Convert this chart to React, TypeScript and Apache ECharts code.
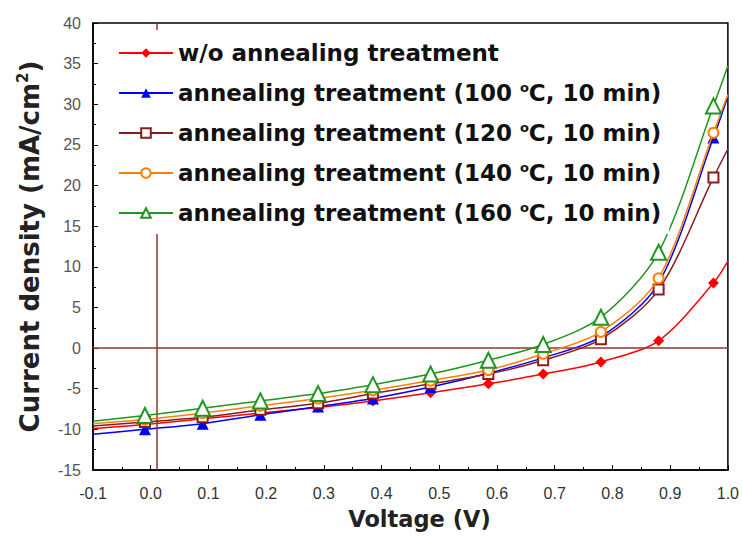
import React, { useEffect, useRef } from "react";
import * as echarts from "echarts";

// Voltage positions of the measured (marked) points, plus the curve ends
const voltages = [-0.1, -0.01, 0.09, 0.19, 0.29, 0.385, 0.485, 0.585, 0.68, 0.78, 0.88, 0.975, 1.0];

const seriesNames = [
  "w/o annealing treatment",
  "annealing treatment (100 °C, 10 min)",
  "annealing treatment (120 °C, 10 min)",
  "annealing treatment (140 °C, 10 min)",
  "annealing treatment (160 °C, 10 min)",
];

const woAnnealing = [-9.9, -9.4, -8.7, -8.0, -7.3, -6.5, -5.5, -4.4, -3.2, -1.7, 0.9, 8.0, 10.7];
const anneal100 = [-10.6, -10.0, -9.3, -8.2, -7.2, -6.2, -4.8, -3.1, -1.2, 1.4, 8.0, 25.9, 31.0];
const anneal120 = [-9.6, -9.1, -8.5, -7.6, -6.8, -5.6, -4.4, -3.2, -1.5, 1.1, 7.2, 21.0, 24.5];
const anneal140 = [-9.3, -8.8, -8.0, -7.1, -6.2, -5.2, -4.0, -2.7, -0.7, 2.0, 8.6, 26.5, 31.2];
const anneal160 = [-9.0, -8.3, -7.4, -6.5, -5.6, -4.5, -3.2, -1.5, 0.45, 3.8, 11.8, 29.8, 34.7];

const colors = ["#ff0000", "#0000ff", "#8b1c1c", "#ff8000", "#1f961f"];
const symbols = ["diamond", "triangle", "emptyRect", "emptyCircle", "emptyTriangle"];
const symbolSizes = [11, 12, 10, 10, 15];

const refColor = "#993030";

export default function App() {
  const ref = useRef<HTMLDivElement>(null);
  useEffect(() => {
    if (!ref.current) return;
    const chart = echarts.init(ref.current, null, { renderer: "svg" });
    const allData = [woAnnealing, anneal100, anneal120, anneal140, anneal160];
    const series: any[] = allData.map((vals, i) => ({
      name: seriesNames[i],
      type: "line",
      smooth: 0.3,
      symbol: symbols[i],
      symbolSize: symbolSizes[i],
      showAllSymbol: true,
      z: 3 + i,
      lineStyle: { color: colors[i], width: 1.5 },
      itemStyle: { color: colors[i], borderWidth: 1.5 },
      data: vals.map((v, k) => {
        const item: any = { value: [voltages[k], v] };
        if (k === 0 || k === vals.length - 1) item.symbol = "none";
        return item;
      }),
    }));
    series.push({
      name: "ref",
      type: "line",
      data: [],
      silent: true,
      z: 1,
      markLine: {
        silent: true,
        symbol: "none",
        label: { show: false },
        lineStyle: { color: refColor, width: 1.5, type: "solid" },
        data: [{ yAxis: 0 }, { xAxis: 0.005 }],
      },
    });

    chart.setOption({
      animation: false,
      backgroundColor: "#fff",
      grid: {
        left: 93,
        right: 11,
        top: 23,
        bottom: 66,
        show: true,
        borderColor: "#000",
        borderWidth: 1.5,
      },
      legend: {
        orient: "vertical",
        left: 110,
        top: 30,
        padding: [10, 8, 8, 8],
        backgroundColor: "#fff",
        itemWidth: 54,
        itemHeight: 12,
        itemGap: 14,
        z: 10,
        data: seriesNames,
        formatter: (name: string) => name.replace("°", "{sup|o}"),
        textStyle: {
          fontSize: 23,
          fontWeight: "bold",
          fontFamily: "DejaVu Sans",
          color: "#111",
          lineHeight: 26,
          rich: {
            sup: {
              fontSize: 13,
              fontWeight: "bold",
              fontFamily: "DejaVu Sans",
              color: "#111",
              padding: [0, 0, 12, 0],
            },
          },
        },
      },
      xAxis: {
        type: "value",
        min: -0.1,
        max: 1.0,
        interval: 0.1,
        axisLine: { show: true, onZero: false, lineStyle: { color: "#000", width: 1.5 } },
        axisTick: { show: true, inside: true, length: 5, lineStyle: { color: "#000" } },
        minorTick: { show: true, splitNumber: 2, length: 3, lineStyle: { color: "#000" } },
        splitLine: { show: false },
        axisLabel: {
          formatter: (v: number) => v.toFixed(1),
          color: "#333",
          fontSize: 16,
          fontFamily: "Liberation Sans",
          margin: 15,
        },
        name: "Voltage (V)",
        nameLocation: "middle",
        nameGap: 37,
        nameTextStyle: {
          fontSize: 22.5,
          fontWeight: "bold",
          fontFamily: "DejaVu Sans",
          color: "#222",
          padding: [0, 0, 0, 18],
        },
      },
      yAxis: {
        type: "value",
        min: -15,
        max: 40,
        interval: 5,
        axisLine: { show: true, onZero: false, lineStyle: { color: "#000", width: 1.5 } },
        axisTick: { show: true, inside: true, length: 5, lineStyle: { color: "#000" } },
        minorTick: { show: true, splitNumber: 2, length: 3, lineStyle: { color: "#000" } },
        splitLine: { show: false },
        axisLabel: {
          color: "#555",
          fontSize: 16,
          fontFamily: "Liberation Sans",
          margin: 12,
        },
        name: "Current density (mA/cm{sup|2})",
        nameLocation: "middle",
        nameGap: 49,
        nameTextStyle: {
          fontSize: 26,
          fontWeight: "bold",
          fontFamily: "DejaVu Sans",
          color: "#222",
          rich: {
            sup: {
              fontSize: 15,
              fontWeight: "bold",
              fontFamily: "DejaVu Sans",
              color: "#222",
              padding: [0, 0, 14, 0],
            },
          },
        },
      },
      series,
    });
    return () => chart.dispose();
  }, []);
  return (
    <div
      ref={ref}
      style={{ position: "fixed", left: 0, top: 0, width: 742, height: 536, background: "#fff" }}
    />
  );
}
